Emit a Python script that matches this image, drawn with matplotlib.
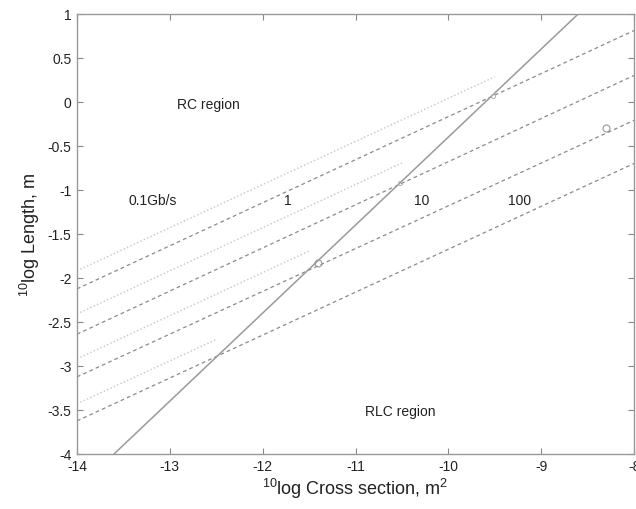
import matplotlib
matplotlib.use('Agg')
import matplotlib.pyplot as plt

plt.rcParams['font.family'] = ['Liberation Sans', 'DejaVu Sans']
plt.rcParams['mathtext.fontset'] = 'custom'
plt.rcParams['mathtext.rm'] = 'Liberation Sans'

# RC lines (dotted), one per bit rate: x from -14 to end
rc_x_end = [-9.5, -10.5, -11.5, -12.5]
rc_y_start = [-1.92, -2.41, -2.92, -3.43]
rc_y_end = [0.285, -0.695, -1.695, -2.70]

# RLC lines (dashed), full width
rlc_x = [-14, -8]
rlc_y_start = [-2.125, -2.64, -3.125, -3.625]
rlc_y_end = [0.81, 0.30, -0.21, -0.70]

# boundary line
bound_x = [-13.6, -8.6]
bound_y = [-4.0, 1.0]

# markers
mark_x = [-11.4, -8.3, -9.52, -10.52]
mark_y = [-1.83, -0.30, 0.07, -0.92]

labels = ['0.1Gb/s', '1', '10', '100']
label_x = [-13.18, -11.73, -10.29, -9.23]
label_y = -1.12

fig = plt.figure(figsize=(6.36, 5.10), dpi=100)
ax = fig.add_axes([0.121, 0.108, 0.876, 0.863])

for i in range(4):
    ax.plot([-14, rc_x_end[i]], [rc_y_start[i], rc_y_end[i]], linestyle=':', color='#c4c4c4', lw=1.0)
    ax.plot(rlc_x, [rlc_y_start[i], rlc_y_end[i]], linestyle=(0, (3, 2.5)), color='#8a8a8a', lw=0.9)

ax.plot(bound_x, bound_y, color='#9a9a9a', lw=1.1)
ax.plot(mark_x[:2], mark_y[:2], 'o', mfc='none', mec='#999999', ms=5, mew=0.8)
ax.plot(mark_x[2:], mark_y[2:], 'o', mfc='none', mec='#b0b0b0', ms=3, mew=0.7)

for t, x in zip(labels, label_x):
    ax.text(x, label_y, t, fontsize=10, ha='center', va='center', color='#222222')
ax.text(-12.58, -0.02, 'RC region', fontsize=10, ha='center', va='center', color='#222222')
ax.text(-10.52, -3.51, 'RLC region', fontsize=10, ha='center', va='center', color='#222222')

ax.set_xlim(-14, -8)
ax.set_ylim(-4, 1)
ax.set_xticks([-14, -13, -12, -11, -10, -9, -8])
ax.set_xticklabels(['-14', '-13', '-12', '-11', '-10', '-9', '-8'])
ax.set_yticks([-4, -3.5, -3, -2.5, -2, -1.5, -1, -0.5, 0, 0.5, 1])
ax.set_yticklabels(['-4', '-3.5', '-3', '-2.5', '-2', '-1.5', '-1', '-0.5', '0', '0.5', '1'])
ax.tick_params(direction='in', top=True, right=True, length=4, width=0.8,
               color='#888888', labelsize=10, labelcolor='#222222', pad=4)
for s in ax.spines.values():
    s.set_color('#999999')
    s.set_linewidth(1.0)

ax.set_xlabel(r'$^{10}$log Cross section, m$^2$', fontsize=13, color='#222222', labelpad=2)
ax.set_ylabel(r'$^{10}$log Length, m', fontsize=13, color='#222222', labelpad=4)

fig.savefig('out.png', dpi=100)
